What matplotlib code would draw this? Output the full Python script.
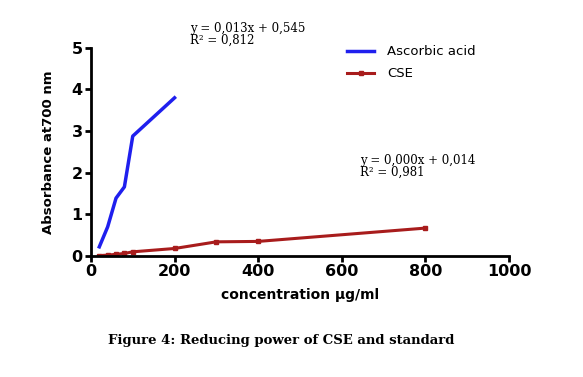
import matplotlib.pyplot as plt

# Ascorbic acid (standard)
aa_conc = [20, 40, 60, 80, 100, 200]
aa_abs = [0.22, 0.70, 1.39, 1.66, 2.88, 3.80]

# CSE extract
cse_conc = [20, 40, 60, 80, 100, 200, 300, 400, 800]
cse_abs = [0.01, 0.02, 0.04, 0.06, 0.10, 0.18, 0.34, 0.35, 0.67]

x_ticks = [0, 200, 400, 600, 800, 1000]
y_ticks = [0, 1, 2, 3, 4, 5]

fig = plt.figure(figsize=(5.83, 3.77), dpi=100)
ax = fig.add_axes([0.156, 0.321, 0.717, 0.552])

ax.plot(aa_conc, aa_abs, color='#1f1fee', lw=2.5, label='Ascorbic acid')
ax.plot(cse_conc, cse_abs, color='#a81c1c', lw=2.2, marker='s', ms=3,
        label='CSE')

ax.set_xlim(0, 1000)
ax.set_ylim(0, 5)
ax.set_xticks(x_ticks)
ax.set_yticks(y_ticks)
for s in ['top', 'right']:
    ax.spines[s].set_visible(False)
for s in ['left', 'bottom']:
    ax.spines[s].set_linewidth(2)
ax.tick_params(width=2, length=4, labelsize=11.5, pad=2)
for lab in ax.get_xticklabels() + ax.get_yticklabels():
    lab.set_fontweight('bold')

ax.set_xlabel('concentration µg/ml', fontsize=10, fontweight='bold', labelpad=6)
ax.set_ylabel('Absorbance at700 nm', fontsize=9.5, fontweight='bold', labelpad=12)

ax.legend(loc='upper left', bbox_to_anchor=(0.585, 1.07), frameon=False,
          fontsize=9.5, handlelength=2.0, handletextpad=1.0, labelspacing=0.7)

# regression notes
fig.text(0.326, 0.875, 'y = 0,013x + 0,545\nR² = 0,812', family='serif',
         fontsize=8.5, linespacing=0.95, va='bottom')
fig.text(0.617, 0.525, 'y = 0,000x + 0,014\nR² = 0,981', family='serif',
         fontsize=8.5, linespacing=0.95, va='bottom')

fig.text(0.482, 0.088, 'Figure 4: Reducing power of CSE and standard',
         family='serif', fontsize=9.5, fontweight='bold', ha='center')

fig.savefig('out.png', dpi=100)
